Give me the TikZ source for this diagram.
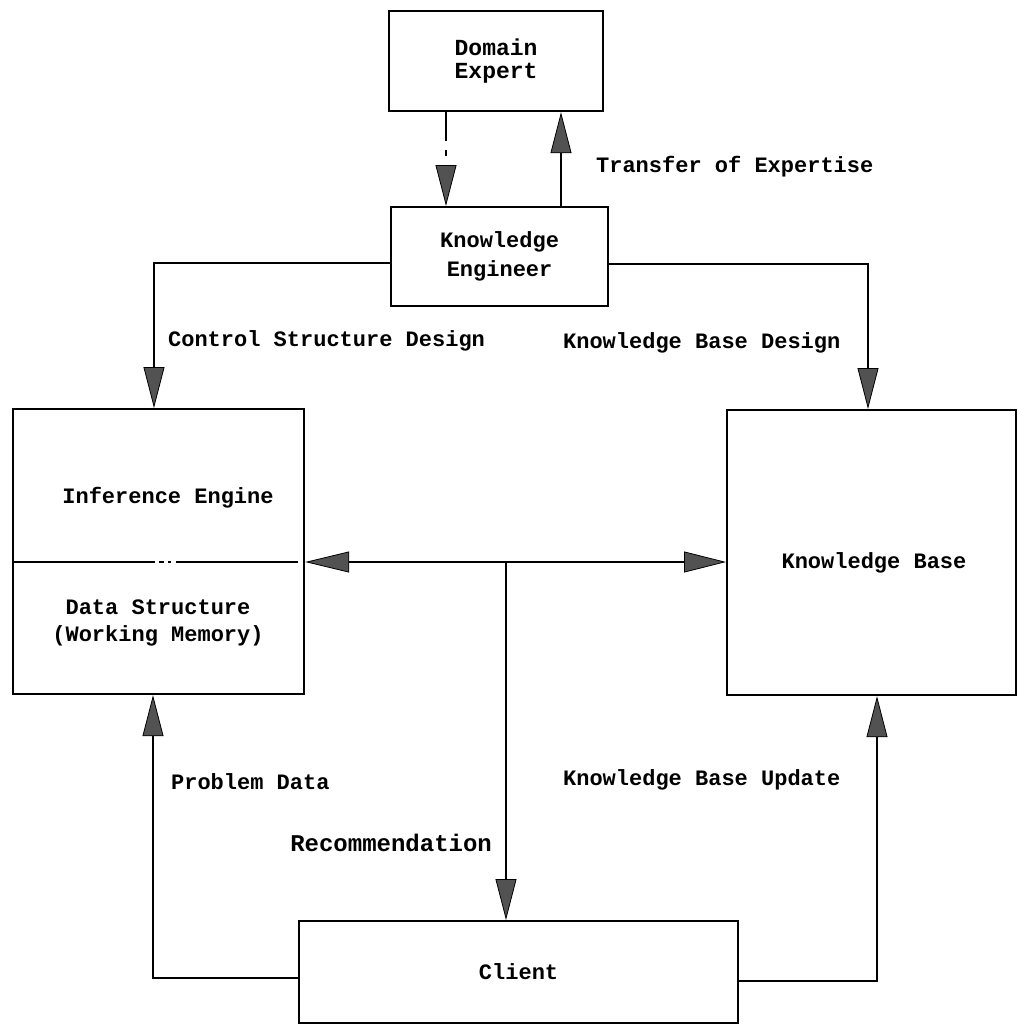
\documentclass[tikz,border=0pt]{standalone}
\usepackage{fontspec}
\setmainfont{Liberation Mono}
\usetikzlibrary{arrows.meta}
\begin{document}
\begin{tikzpicture}[x=1pt,y=-1pt,
  line width=2.2pt,
  every node/.style={font=\fontsize{22}{27}\selectfont\bfseries},
  box/.style={draw, rectangle, inner sep=0pt, anchor=north west, align=center},
  lbl/.style={inner sep=0pt},
  arr/.style={-{Triangle[length=41pt,width=21pt,fill=black!68,line width=0.8pt]}},
  arrs/.style={{Triangle[length=44pt,width=21pt,fill=black!68,line width=0.8pt]}-{Triangle[length=42pt,width=21pt,fill=black!68,line width=0.8pt]}}
]
\useasboundingbox (0,0) rectangle (1017,1025);

% boxes
\node[box, minimum width=214pt, minimum height=100pt,
      font=\fontsize{23}{23}\selectfont\bfseries] (de) at (388,10) {Domain\\Expert};
\node[box, minimum width=217pt, minimum height=99pt,
      font=\fontsize{22}{29}\selectfont\bfseries] (ke) at (390,206) {Knowledge\\Engineer};
\node[box, minimum width=291pt, minimum height=285pt] (ie) at (12,408) {};
\node[box, minimum width=289pt, minimum height=285pt] (kb) at (726,409) {};
\node[box, minimum width=439pt, minimum height=102pt] (cl) at (298,920) {Client};

% texts inside the two large boxes
\node[lbl] (ietext) at (168,498) {Inference Engine};
\node[lbl, align=center] (dstext) at (158,623) {Data Structure\\(Working Memory)};
\node[lbl] (kbtext) at (874,563) {Knowledge Base};

% divider between inference engine and working memory
\coordinate (mid) at (506,562);
\draw (ie.west |- mid) -- ++(143,0);
\draw ([xshift=147pt]ie.west |- mid) -- ++(5,0);
\draw ([xshift=156pt]ie.west |- mid) -- ++(3,0);
\draw ([xshift=164pt]ie.west |- mid) -- ([xshift=-7pt]ie.east |- mid);

% connectors
\draw[arr, dash pattern=on 29pt off 9pt on 6pt off 60pt]
  ([xshift=58pt]de.south west) -- ([xshift=56pt]ke.north west);
\draw[arr] ([xshift=171pt]ke.north west) -- ([xshift=173pt]de.south west);
\draw[arr] ([yshift=-6pt]ke.west) -| ([xshift=142pt]ie.north west);
\draw[arr] ([yshift=-7pt]ke.east) -| ([xshift=142pt]kb.north west);
\draw[arrs] (ie.east |- mid) -- (kb.west |- mid);
\draw[arr] (mid) -- (cl.north -| mid);
\draw[arr] ([yshift=-6pt]cl.west) -| ([xshift=141pt]ie.south west);
\draw[arr] ([yshift=-9pt]cl.east) -| ([xshift=151pt]kb.south west);

% connector labels
\node[lbl, anchor=west] (lt) at (595,167) {Transfer of Expertise};
\node[lbl, anchor=west] (lc) at (167,341) {Control Structure Design};
\node[lbl, anchor=west] (lk) at (562,343) {Knowledge Base Design};
\node[lbl, anchor=west] (lp) at (170,782) {Problem Data};
\node[lbl, anchor=east, font=\fontsize{24}{27}\selectfont\bfseries] (lr) at (493,843) {Recommendation};
\node[lbl, anchor=west] (lu) at (562,780) {Knowledge Base Update};
\end{tikzpicture}
\end{document}
